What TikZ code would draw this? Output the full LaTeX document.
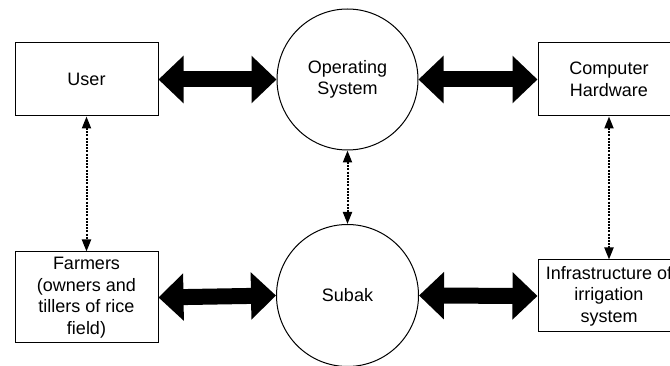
\documentclass[tikz,border=0pt]{standalone}
\usepackage{fontspec}
\setmainfont{Liberation Sans}
\usetikzlibrary{arrows.meta}
\tikzstyle{box} = [rectangle, draw, line width=1pt, minimum width=143pt, minimum height=73pt, align=center, font=\fontsize{18}{21.6}\selectfont]
\tikzstyle{round} = [draw, circle, line width=1pt, minimum size=141pt, inner sep=0pt, align=center, font=\fontsize{18}{21.6}\selectfont]
\tikzstyle{flow} = [draw, line width=16pt, {Triangle[length=25pt,width=46pt]}-{Triangle[length=25pt,width=46pt]}]
\tikzstyle{link} = [draw, line width=2pt, dash pattern=on 2pt off 1.2pt, {Triangle[length=12pt,width=9pt]}-{Triangle[length=12pt,width=9pt]}]

\begin{document}
\begin{tikzpicture}[x=1pt, y=1pt]
		\useasboundingbox (0,0) rectangle (670,-366);
		\node [box] (user) at (86.5,-79.5) {User};
		\node [round, right of = user, node distance = 261pt] (os) {Operating\\System};
		\node [box, right of = os, node distance = 261.5pt, minimum width = 142pt] (hw) {Computer\\Hardware};
		\path [flow] (user.east) to (os.west);
		\path [flow] (os.east) to (hw.west);
		
		
		\node [box, below of = user, node distance = 218pt, minimum height = 91pt] (farmers) {Farmers\\(owners and\\tillers of rice\\field)};
		\node [round, below of = os, node distance = 216pt, minimum size = 142pt] (subak) {Subak};
		\node [box, below of = hw, node distance = 216.5pt, minimum width = 142pt, minimum height = 72pt] (infra) {Infrastructure of\\irrigation\\system};
		\path [flow] (farmers.east) to (subak.west);
		\path [flow] (subak.east) to (infra.west);
		
		
		\path [link] (user) to (farmers);
		\path [link] (os) to (subak);
		\path [link] (hw) to (infra);
\end{tikzpicture}
\end{document}
